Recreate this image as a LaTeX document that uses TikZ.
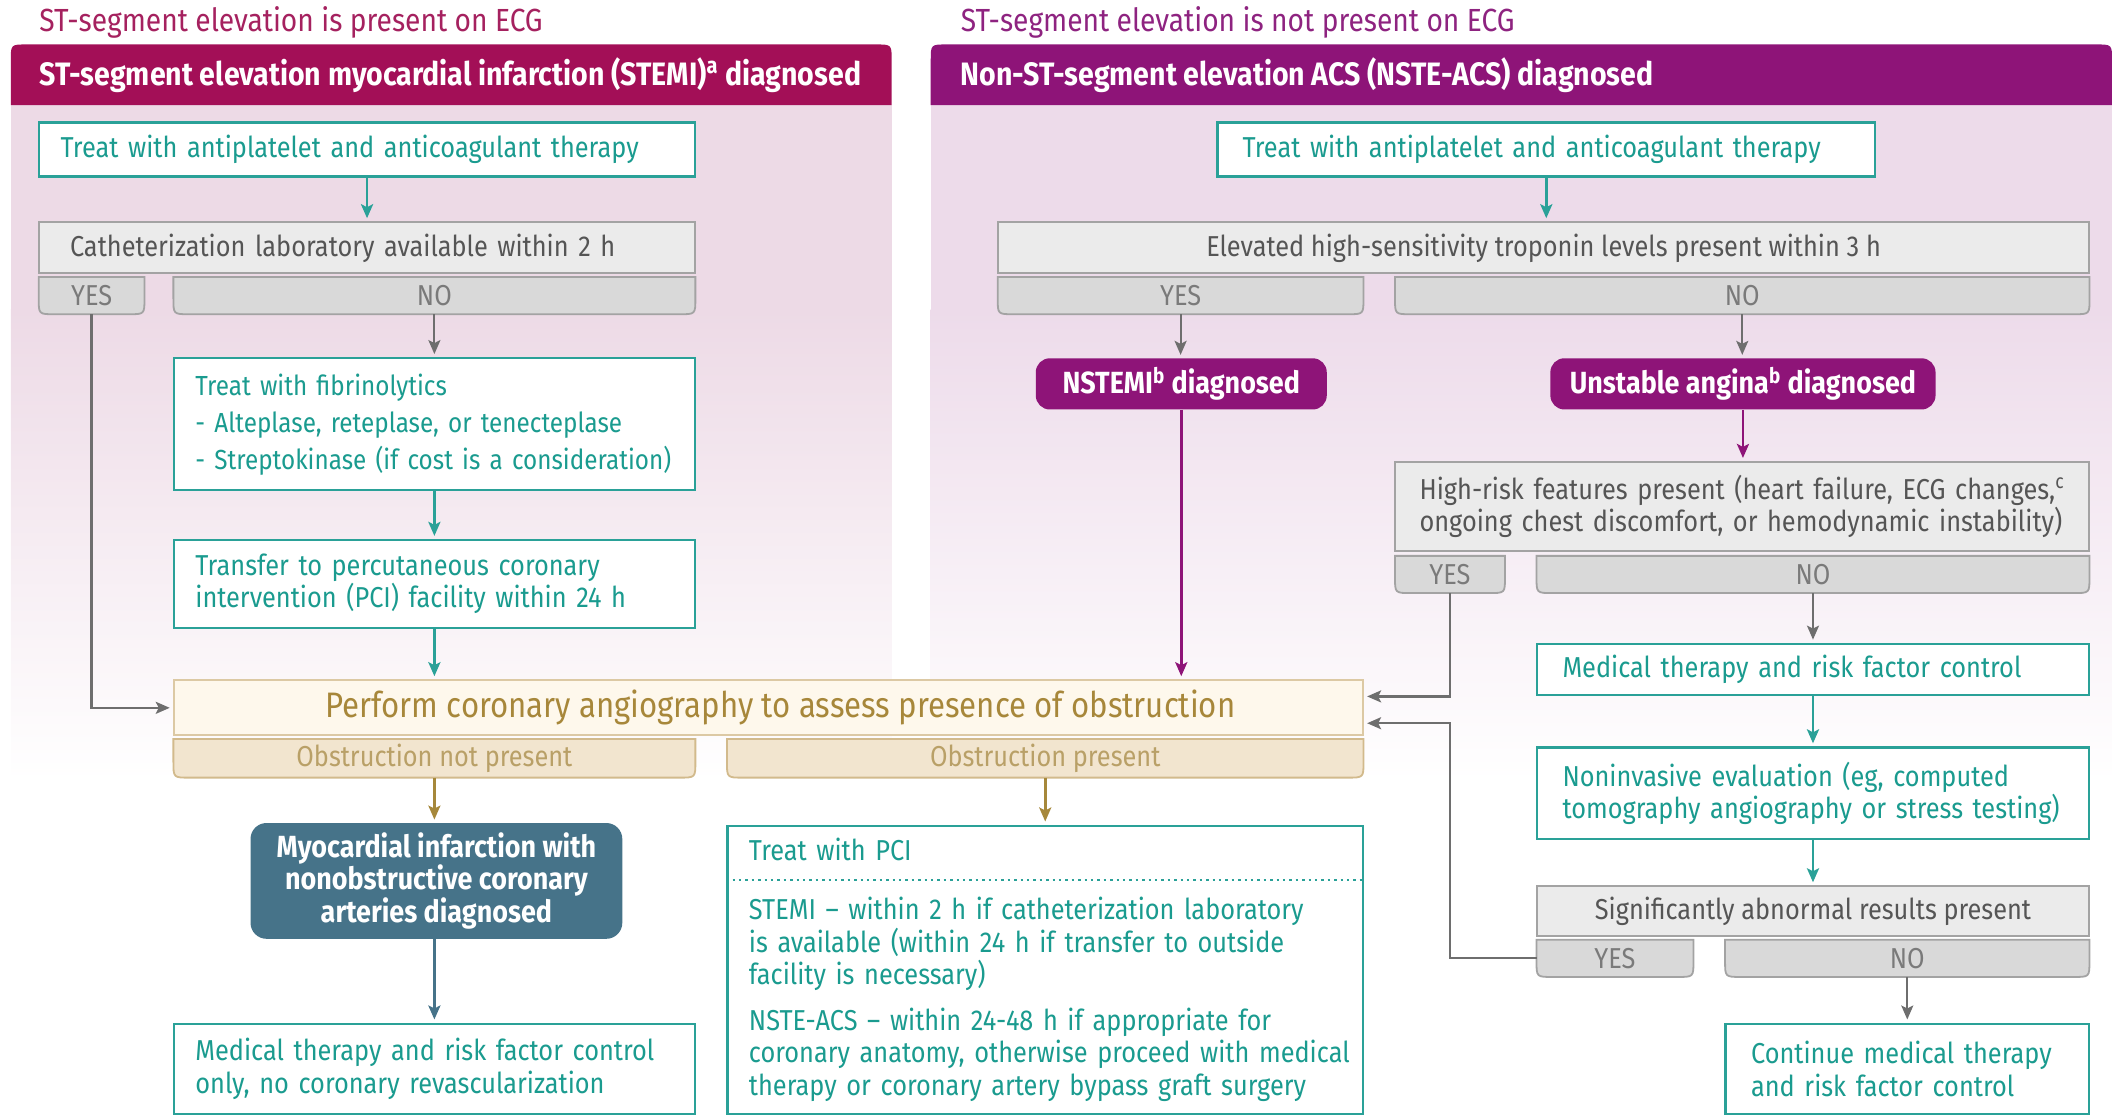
\documentclass[tikz,border=0pt]{standalone}
\usepackage{fontspec}
\setmainfont{Fira Sans}[FakeStretch=0.88]
\usetikzlibrary{arrows.meta}
\definecolor{stemiH}{HTML}{A30F57}
\definecolor{stemiT}{HTML}{A5215F}
\definecolor{nsteH}{HTML}{8E1478}
\definecolor{nsteT}{HTML}{8E2380}
\definecolor{pinkL}{HTML}{EDDAE6}
\definecolor{pinkR}{HTML}{EDDBEA}
\definecolor{tealB}{HTML}{2AA198}
\definecolor{tealT}{HTML}{1A9B8F}
\definecolor{greyF}{HTML}{EBEBEB}
\definecolor{greyB}{HTML}{A3A3A3}
\definecolor{greyT}{HTML}{555555}
\definecolor{tabF}{HTML}{D9D9D9}
\definecolor{tabT}{HTML}{7A7A7A}
\definecolor{arrG}{HTML}{6E6E6E}
\definecolor{angF}{HTML}{FEF8EC}
\definecolor{angB}{HTML}{DCC9A4}
\definecolor{angT}{HTML}{A7873A}
\definecolor{obsF}{HTML}{F2E5CF}
\definecolor{obsB}{HTML}{D2BA8C}
\definecolor{obsT}{HTML}{B9A067}
\definecolor{arrO}{HTML}{A6883B}
\definecolor{mncC}{HTML}{467389}
\newcommand\bodyf{\fontsize{14.4}{16.2}\selectfont}
\newcommand\fibf{\fontsize{13.8}{16.2}\selectfont}
\newcommand\boldf{\fontsize{15.3}{16.2}\selectfont\bfseries}
\newcommand\titlef{\fontsize{16}{18}\selectfont}
\newcommand\hdrf{\fontsize{16.2}{17}\selectfont\bfseries}
\newcommand\angiof{\fontsize{17.7}{19}\selectfont}
\pgfdeclarelayer{back}
\pgfdeclarelayer{tabs}
\pgfsetlayers{back,tabs,main}
\newcommand\tabshape[3]{%
  \begin{pgfonlayer}{tabs}
  \draw[fill=#2,draw=#3,line width=0.9pt] (#1.north west) -- ([yshift=8pt]#1.south west)
    .. controls (#1.south west) .. ([xshift=8pt]#1.south west)
    -- ([xshift=-8pt]#1.south east)
    .. controls (#1.south east) .. ([yshift=8pt]#1.south east)
    -- (#1.north east) -- cycle;
  \end{pgfonlayer}}
\begin{document}
\begin{tikzpicture}[x=0.6735pt,y=-0.6735pt,
  ttl/.style={inner sep=0pt,font=\titlef},
  hdr/.style={inner sep=0pt,text=white,font=\hdrf},
  lpad/.style={execute at begin node={\leftskip=#1\relax}},
  tealbox/.style={draw=tealB,fill=white,text=tealT,line width=1.2pt,inner xsep=2pt,inner ysep=0pt,align=left,font=\bodyf,lpad=8.8pt},
  greybox/.style={draw=greyB,fill=greyF,text=greyT,line width=1pt,inner xsep=2pt,inner ysep=0pt,align=center,font=\bodyf},
  tabnode/.style={inner sep=0pt,minimum height=18.2pt,text=tabT,font=\bodyf},
  otab/.style={inner sep=0pt,minimum height=18.9pt,text=obsT,font=\bodyf},
  angiobox/.style={draw=angB,fill=angF,text=angT,line width=1pt,inner sep=0pt,font=\angiof},
  pill/.style={fill=nsteH,rounded corners=7pt,text=white,inner sep=0pt,minimum height=25.6pt,font=\boldf},
  mncbox/.style={fill=mncC,rounded corners=8pt,text=white,inner sep=0pt,align=center,font=\boldf},
  tarrow/.style={draw=tealB,line width=1.4pt,-{Stealth[length=7pt,width=6pt,inset=1.5pt]},shorten >=1.5pt},
  garrow/.style={draw=arrG,line width=1.1pt,-{Stealth[length=7pt,width=6pt,inset=1.5pt]},shorten >=1.5pt},
  parrow/.style={draw=nsteH,line width=1.4pt,-{Stealth[length=7pt,width=6pt,inset=1.5pt]},shorten >=1.5pt},
  oarrow/.style={draw=arrO,line width=1.3pt,-{Stealth[length=7pt,width=6pt,inset=1.5pt]},shorten >=1.5pt},
  barrow/.style={draw=mncC,line width=1.4pt,-{Stealth[length=7pt,width=6pt,inset=1.5pt]},shorten >=1.5pt}]
\useasboundingbox (0,0) rectangle (1568,829);
% panels
\begin{pgfonlayer}{back}
\fill[pinkL] (8,78) rectangle (662,230);
\shade[top color=pinkL,bottom color=white] (8,229.5) rectangle (662,580);
\fill[pinkR] (691,78) rectangle (1568,230);
\shade[top color=pinkR,bottom color=white] (691,229.5) rectangle (1568,580);
\fill[stemiH] (8,78) -- (8,45) .. controls (8,33) .. (20,33) -- (650,33) .. controls (662,33) .. (662,45) -- (662,78) -- cycle;
\fill[nsteH] (691,78) -- (691,45) .. controls (691,33) .. (703,33) -- (1556,33) .. controls (1568,33) .. (1568,45) -- (1568,78) -- cycle;
\end{pgfonlayer}
% ---------- left panel ----------
\node[ttl,text=stemiT,anchor=base west] (ltitle) at (29,23.5) {ST-segment elevation is present on ECG};
\node[hdr,anchor=west] (lhdr) at (29,56) {ST-segment elevation myocardial infarction (STEMI)\textsuperscript{a} diagnosed};
\node[tealbox,minimum height=26.9pt,text width=324pt] (ltreat) at (272.5,111) {Treat with antiplatelet and anticoagulant therapy};
\node[greybox,minimum height=25.6pt,text width=324pt,align=left,lpad=13.5pt] (lcath) at (272.5,184) {Catheterization laboratory available within 2 h};
\node[tabnode,minimum width=52.5pt] (lyes) at (68,219.5) {YES};
\tabshape{lyes}{tabF}{greyB}
\node[tabnode,minimum width=260.6pt] (lno) at (322.5,219.5) {NO};
\tabshape{lno}{tabF}{greyB}
\node[tealbox,font=\fibf,minimum height=66pt,text width=256.6pt] (lfib) at (322.5,315) {Treat with fibrinolytics\\[2.3pt] - Alteplase, reteplase, or tenecteplase\\[2.3pt] - Streptokinase (if cost is a consideration)};
\node[tealbox,minimum height=43.8pt,text width=256.6pt] (ltrans) at (322.5,433.5) {Transfer to percutaneous coronary\\ intervention (PCI) facility within 24 h};
\node[angiobox,minimum width=594.7pt,minimum height=27.6pt] (angio) at (570.5,525.5) {\hspace{12pt}Perform coronary angiography to assess presence of obstruction};
\node[otab,minimum width=260.6pt] (obsno) at (322.5,563) {Obstruction not present};
\tabshape{obsno}{obsF}{obsB}
\node[otab,minimum width=317.9pt] (obsyes) at (776,563) {Obstruction present};
\tabshape{obsyes}{obsF}{obsB}
\node[mncbox,minimum width=185.9pt,minimum height=57.9pt] (mnc) at (324,654) {Myocardial infarction with\\ nonobstructive coronary\\ arteries diagnosed};
\node[tealbox,minimum height=45.1pt,text width=256.6pt] (lmed) at (322.5,793.5) {Medical therapy and risk factor control\\ only, no coronary revascularization};
\node[tealbox,minimum height=144.1pt,text width=313.9pt] (pci) at (776,720) {Treat with PCI\\[13.5pt] STEMI -- within 2 h if catheterization laboratory\\ is available (within 24 h if transfer to outside\\ facility is necessary)\\[6.7pt] NSTE-ACS -- within 24-48 h if appropriate for\\ coronary anatomy, otherwise proceed with medical\\ therapy or coronary artery bypass graft surgery};
\draw[tealB,dotted,line width=1.2pt] ([yshift=-27.6pt]pci.north west) -- ([yshift=-27.6pt]pci.north east);
% ---------- right panel ----------
\node[ttl,text=nsteT,anchor=base west] (rtitle) at (713,23.5) {ST-segment elevation is not present on ECG};
\node[hdr,anchor=west] (rhdr) at (713,56) {Non-ST-segment elevation ACS (NSTE-ACS) diagnosed};
\node[tealbox,minimum height=26.9pt,text width=324.7pt,lpad=10.5pt] (rtreat) at (1148,111) {Treat with antiplatelet and anticoagulant therapy};
\node[greybox,minimum width=545.5pt,minimum height=25.6pt] (rtrop) at (1146,184) {Elevated high-sensitivity troponin levels present within 3 h};
\node[tabnode,minimum width=182.5pt] (ryes) at (876.5,219.5) {YES};
\tabshape{ryes}{tabF}{greyB}
\node[tabnode,minimum width=346.9pt] (rno) at (1293.5,219.5) {NO};
\tabshape{rno}{tabF}{greyB}
\node[pill,minimum width=145.5pt] (nstemi) at (877,285) {NSTEMI\textsuperscript{b} diagnosed};
\node[pill,minimum width=192.6pt] (ua) at (1294,285) {Unstable angina\textsuperscript{b} diagnosed};
\node[greybox,minimum height=44.5pt,text width=342.9pt,align=left,lpad=10.1pt] (hr) at (1293.5,376) {High-risk features present (heart failure, ECG changes,\textsuperscript{c}\\ ongoing chest discomfort, or hemodynamic instability)};
\node[tabnode,minimum width=54.6pt] (hryes) at (1076.5,426.5) {YES};
\tabshape{hryes}{tabF}{greyB}
\node[tabnode,minimum width=276.1pt] (hrno) at (1346,426.5) {NO};
\tabshape{hrno}{tabF}{greyB}
\node[tealbox,minimum height=25.6pt,text width=272.1pt,lpad=10.8pt] (rmed) at (1346,497) {Medical therapy and risk factor control};
\node[tealbox,minimum height=45.8pt,text width=272.1pt,lpad=10.8pt] (nonin) at (1346,589) {Noninvasive evaluation (eg, computed\\ tomography angiography or stress testing)};
\node[greybox,minimum width=276.1pt,minimum height=24.9pt] (sig) at (1346,676.5) {Significantly abnormal results present};
\node[tabnode,minimum width=78.1pt] (sigyes) at (1199,711.5) {YES};
\tabshape{sigyes}{tabF}{greyB}
\node[tabnode,minimum width=181.8pt] (signo) at (1416,711.5) {NO};
\tabshape{signo}{tabF}{greyB}
\node[tealbox,minimum height=45.1pt,text width=177.8pt,lpad=10.8pt] (cont) at (1416,793.5) {Continue medical therapy\\ and risk factor control};
\coordinate (angioHi) at ([yshift=5.7pt]angio.east);
\coordinate (angioLo) at ([yshift=-7.7pt]angio.east);
% ---------- connectors ----------
\draw[tarrow] (ltreat.south) -- (lcath.north);
\draw[garrow] (lno.south) -- (lfib.north);
\draw[tarrow] (lfib.south) -- (ltrans.north);
\draw[tarrow] (ltrans.south) -- (ltrans.south |- angio.north);
\draw[garrow] (lyes.south) |- (angio.west);
\draw[oarrow] (obsno.south) -- (obsno.south |- mnc.north);
\draw[oarrow] (obsyes.south) -- (pci.north);
\draw[barrow] (mnc.south -| lmed.north) -- (lmed.north);
\draw[tarrow] (rtreat.south) -- (rtreat.south |- rtrop.north);
\draw[garrow] (ryes.south) -- (ryes.south |- nstemi.north);
\draw[garrow] (rno.south) -- (rno.south |- ua.north);
\draw[parrow] (nstemi.south) -- (nstemi.south |- angio.north);
\draw[parrow] (ua.south) -- (ua.south |- hr.north);
\draw[garrow] (hryes.south) |- (angioHi);
\draw[garrow] (hrno.south) -- (rmed.north);
\draw[tarrow] (rmed.south) -- (nonin.north);
\draw[tarrow] (nonin.south) -- (sig.north);
\draw[garrow] (sigyes.west) -| (hryes.south |- angioLo) -- (angioLo);
\draw[garrow] (signo.south) -- (cont.north);
\end{tikzpicture}
\end{document}
